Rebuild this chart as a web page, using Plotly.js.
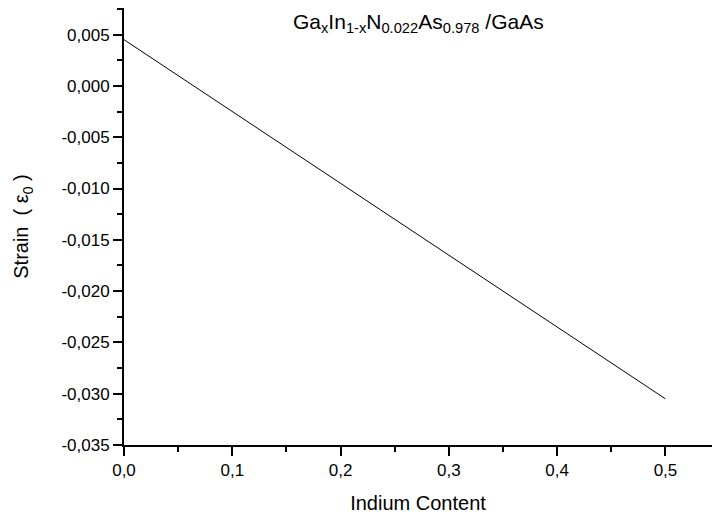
<!DOCTYPE html>
<html>
<head>
<meta charset="utf-8">
<script src="https://cdn.plot.ly/plotly-3.0.1.min.js"></script>
<style>
  html, body { margin: 0; padding: 0; background: #fff; }
  #chart { width: 712px; height: 516px; }
</style>
</head>
<body>
<div id="chart"></div>
<script>
// Strain of GaInNAs on GaAs versus indium content
const indiumContent = [0.0, 0.5];
const strainValues = [0.00451, -0.0305];

const xTicks = [0, 0.1, 0.2, 0.3, 0.4, 0.5];
const yTicks = [0.005, 0.0, -0.005, -0.010, -0.015, -0.020, -0.025, -0.030, -0.035];

// Comma decimals with a plain hyphen for negatives
const xTickText = xTicks.map(v => v.toFixed(1).replace('.', ','));
const yTickText = yTicks.map(v => (Math.abs(v) < 1e-12 ? 0 : v).toFixed(3).replace('.', ','));

const titleText = 'Ga<sub>x</sub>In<sub>1-x</sub>N<sub>0.022</sub>As<sub>0.978</sub> /GaAs';

const font = 'Liberation Sans, Arial, sans-serif';

const trace = {
  x: indiumContent,
  y: strainValues,
  type: 'scatter',
  mode: 'lines',
  line: { color: '#000', width: 1 },
  hoverinfo: 'skip'
};

const layout = {
  width: 712,
  height: 516,
  margin: { l: 124, r: 0, t: 8, b: 71 },
  paper_bgcolor: '#fff',
  plot_bgcolor: '#fff',
  showlegend: false,
  font: { family: font, color: '#000', size: 16 },
  xaxis: {
    range: [0, 0.543],
    tickvals: xTicks,
    ticktext: xTickText,
    showgrid: false,
    zeroline: false,
    showline: true,
    linecolor: '#000',
    linewidth: 2,
    ticks: 'outside',
    ticklen: 9,
    tickwidth: 2,
    tickcolor: '#000',
    tickfont: { family: font, size: 17 },
    minor: { dtick: 0.05, ticks: 'outside', ticklen: 5, tickwidth: 2, tickcolor: '#000', showgrid: false },
    title: { text: 'Indium Content', font: { family: font, size: 20 }, standoff: 17 }
  },
  yaxis: {
    range: [-0.035, 0.0076],
    tickvals: yTicks,
    ticktext: yTickText,
    showgrid: false,
    zeroline: false,
    showline: true,
    linecolor: '#000',
    linewidth: 2,
    ticks: 'outside',
    ticklen: 9,
    tickwidth: 2,
    tickcolor: '#000',
    tickfont: { family: font, size: 17 },
    minor: { dtick: 0.0025, ticks: 'outside', ticklen: 5, tickwidth: 2, tickcolor: '#000', showgrid: false },
    title: { text: 'Strain  ( ε<sub>0</sub> )', font: { family: font, size: 20 }, standoff: 27 }
  },
  annotations: [{
    text: titleText,
    xref: 'paper', yref: 'paper',
    x: 0.5, y: 1.0,
    xanchor: 'center', yanchor: 'top',
    yshift: 0,
    showarrow: false,
    font: { family: font, size: 21, color: '#000' }
  }]
};

Plotly.newPlot('chart', [trace], layout, { displayModeBar: false, staticPlot: true });
</script>
</body>
</html>
